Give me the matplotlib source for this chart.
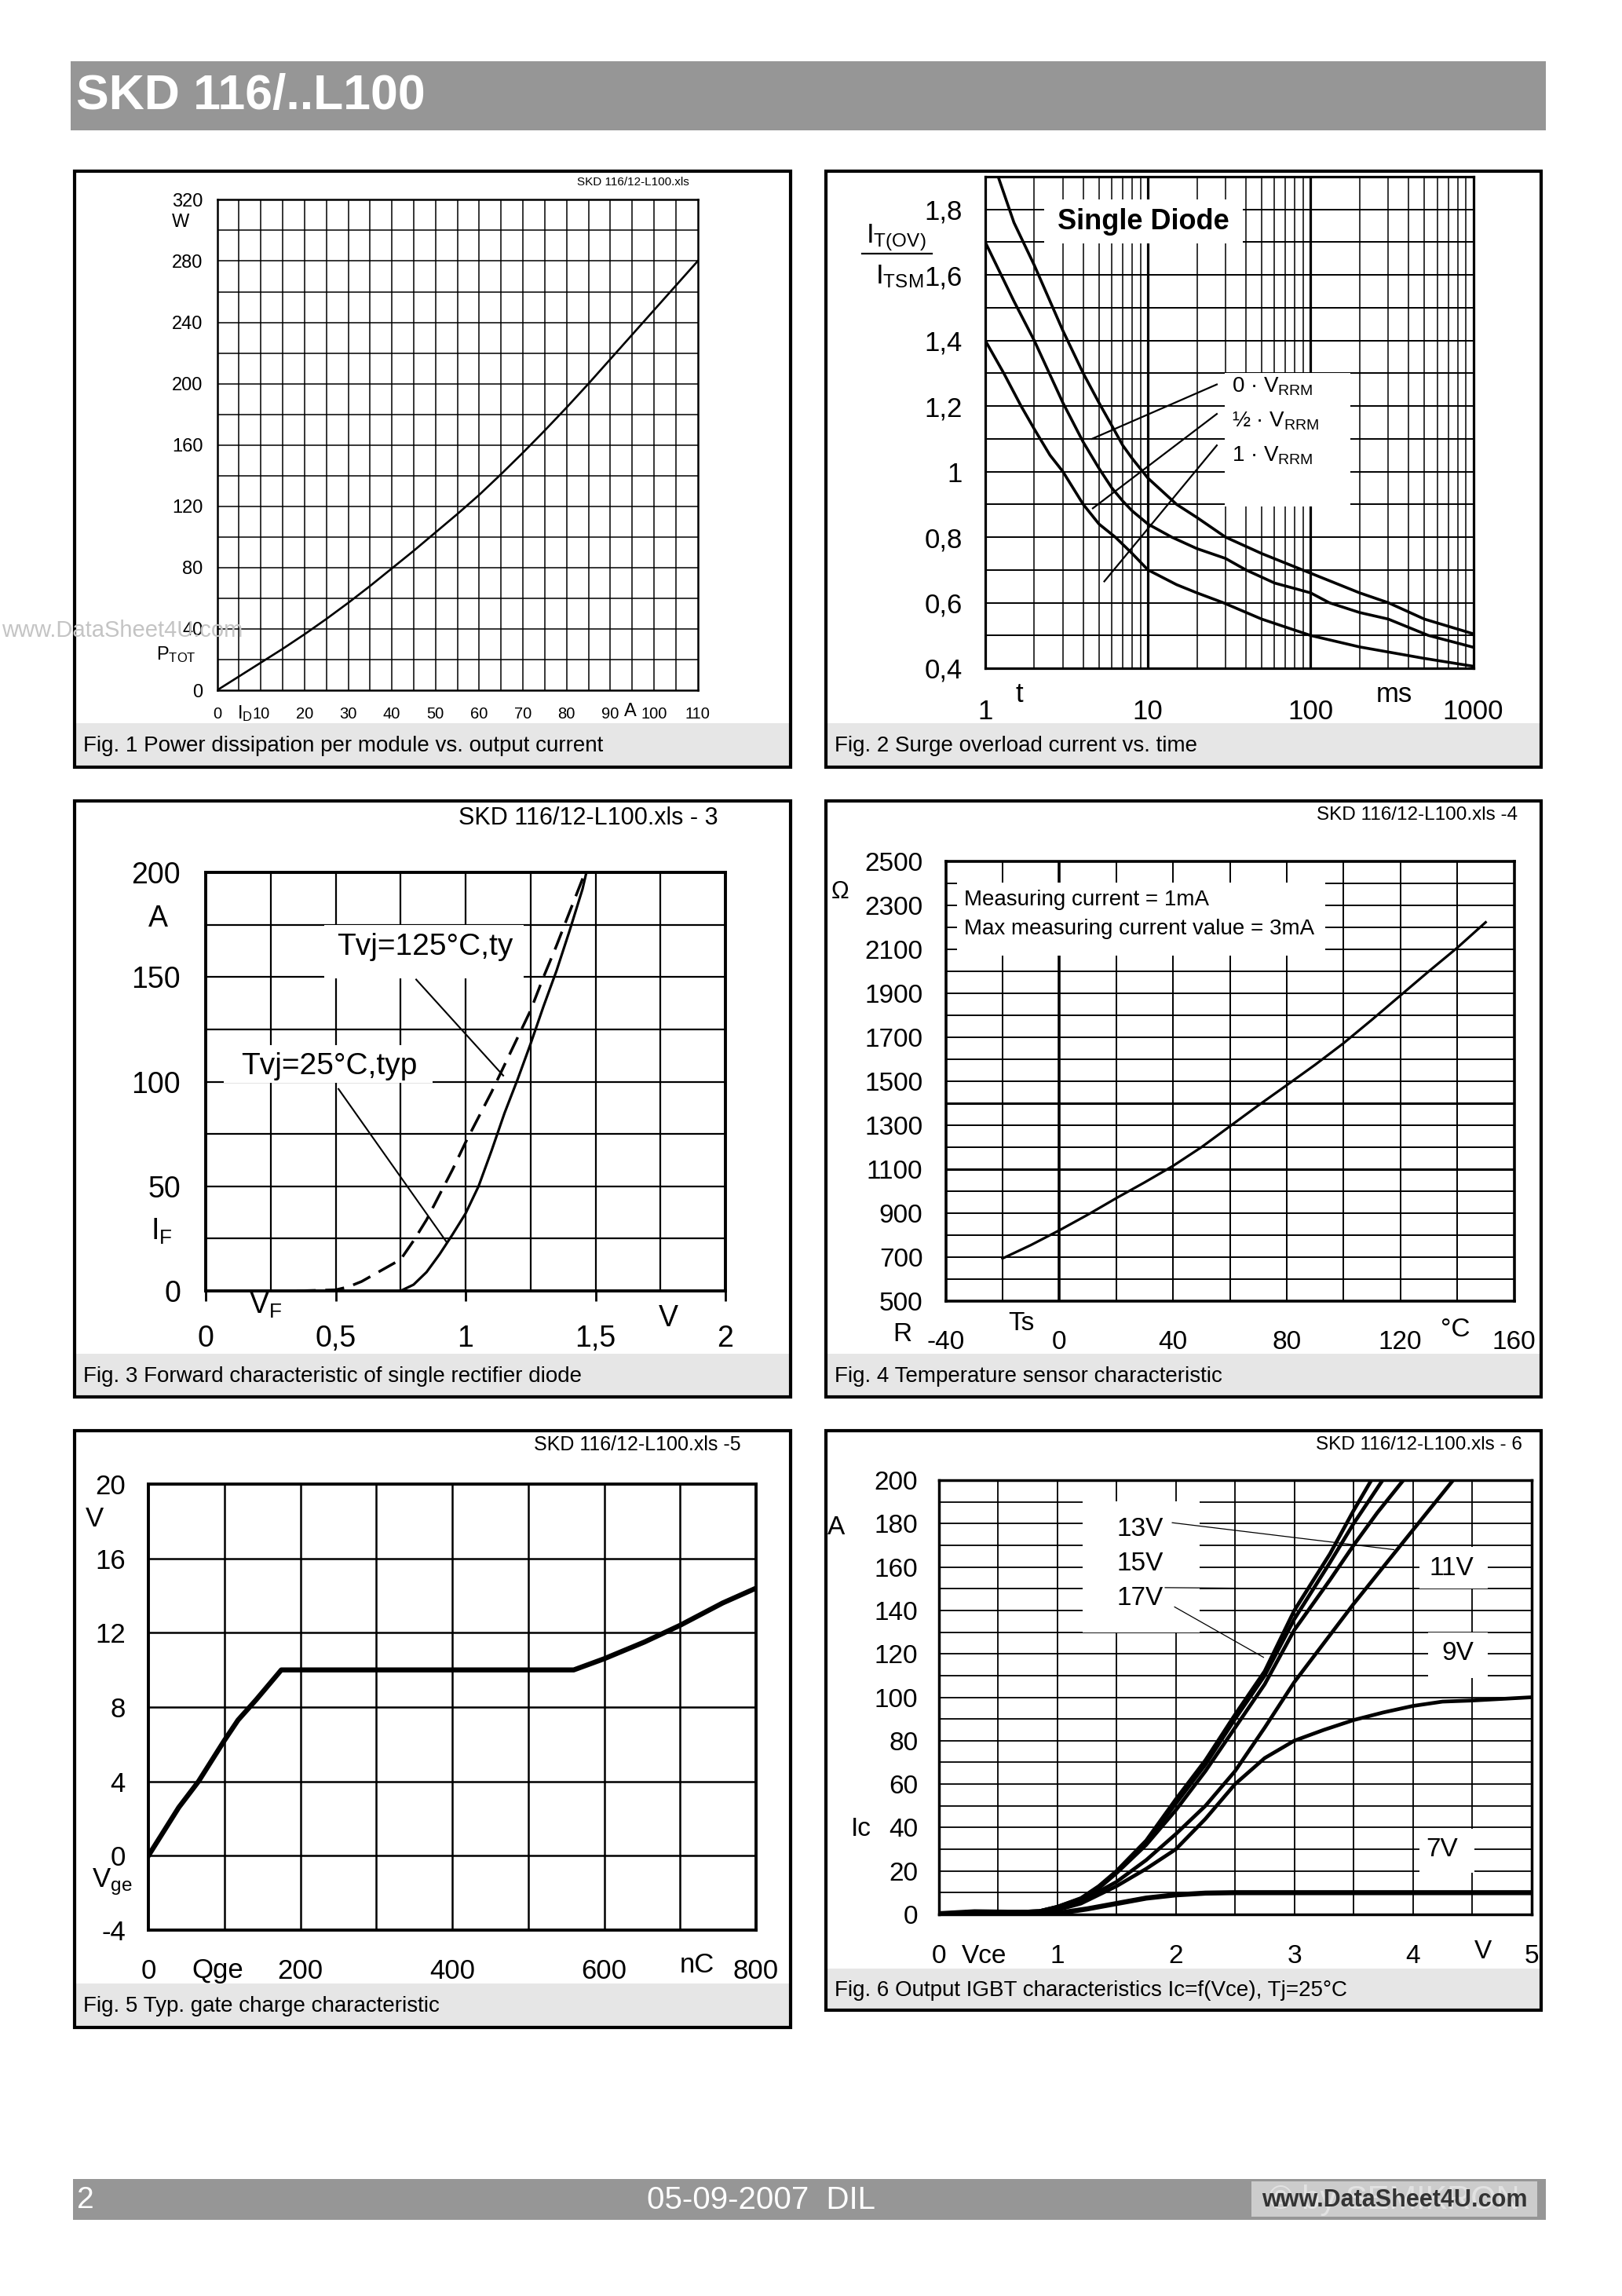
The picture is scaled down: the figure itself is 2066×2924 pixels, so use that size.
import numpy as np
import matplotlib
matplotlib.use('Agg')
import matplotlib.pyplot as plt
from matplotlib.patches import Rectangle
from matplotlib.lines import Line2D

plt.rcParams['font.family'] = ['Liberation Sans', 'DejaVu Sans']
plt.rcParams['mathtext.fontset'] = 'custom'
plt.rcParams['mathtext.rm'] = 'Liberation Sans'
plt.rcParams['mathtext.it'] = 'Liberation Sans:italic'
plt.rcParams['mathtext.bf'] = 'Liberation Sans:bold'

# ---------------- data ----------------
# Fig 1: power dissipation vs output current
f1_current = [0, 5, 10, 15, 20, 25, 30, 35, 40, 45, 50, 55, 60, 65, 70, 75, 80, 85, 90, 95, 100, 105, 110]
f1_power = [0, 9, 18, 27, 36.5, 46.5, 57, 68, 79.5, 91, 103, 115, 127.5, 141, 155, 169.5, 184.5, 200, 216, 232, 248, 264, 280]
f1_xticks = [0, 10, 20, 30, 40, 50, 60, 70, 80, 90, 100, 110]
f1_yticks = [0, 40, 80, 120, 160, 200, 240, 280, 320]

# Fig 2: surge overload current vs time
f2_t0 = [1.2, 1.5, 2, 2.5, 3, 4, 5, 6, 7, 8, 10, 15, 20, 30, 50, 100, 200, 300, 500, 1000]
f2_i0 = [1.9, 1.76, 1.63, 1.52, 1.43, 1.30, 1.21, 1.14, 1.08, 1.04, 0.98, 0.90, 0.86, 0.80, 0.75, 0.69, 0.63, 0.60, 0.55, 0.505]
f2_th = [1, 1.5, 2, 3, 4, 5, 6, 7, 8, 10, 14, 20, 30, 40, 60, 100, 130, 200, 300, 530, 1000]
f2_ih = [1.7, 1.52, 1.40, 1.21, 1.09, 1.01, 0.95, 0.91, 0.88, 0.84, 0.80, 0.765, 0.735, 0.70, 0.66, 0.63, 0.60, 0.57, 0.55, 0.50, 0.464]
f2_t1 = [1, 1.3, 1.66, 2, 2.5, 3, 4, 5, 6.3, 8, 10, 15, 20, 29, 50, 100, 200, 500, 1000]
f2_i1 = [1.4, 1.3, 1.2, 1.13, 1.05, 1.0, 0.9, 0.84, 0.8, 0.75, 0.70, 0.655, 0.63, 0.60, 0.55, 0.50, 0.465, 0.43, 0.406]
f2_labels = ['0 · V$_{\\mathrm{RRM}}$', '½ · V$_{\\mathrm{RRM}}$', '1 · V$_{\\mathrm{RRM}}$']
f2_leaders = [((4.53, 1.10), (26.5, 1.266)), ((4.58, 0.888), (26.5, 1.176)), ((5.39, 0.665), (26.5, 1.08))]
f2_xticks = [1, 10, 100, 1000]
f2_yticks = [0.4, 0.6, 0.8, 1.0, 1.2, 1.4, 1.6, 1.8]
f2_yticklabels = ['0,4', '0,6', '0,8', '1', '1,2', '1,4', '1,6', '1,8']

# Fig 3: forward characteristic
f3_v25 = [0.75, 0.80, 0.85, 0.90, 0.95, 1.0, 1.05, 1.10, 1.15, 1.20, 1.25, 1.30, 1.35, 1.40, 1.45, 1.465]
f3_i25 = [0, 3, 9, 17.5, 27, 37, 50, 67, 85, 101, 118, 136, 153, 172, 192, 200]
f3_v125 = [0.35, 0.5, 0.55, 0.6, 0.65, 0.7, 0.75, 0.8, 0.85, 0.9, 0.95, 1.0, 1.05, 1.10, 1.15, 1.2, 1.25, 1.3, 1.35, 1.4, 1.46]
f3_i125 = [0, 0.5, 2, 4.5, 8, 11.5, 15, 24, 34, 46, 58, 71, 83, 95, 108, 121, 134, 150, 165, 181, 200]
f3_leaders = [((0.81, 148.8), (1.145, 102.9)), ((0.511, 96.5), (0.925, 23.7))]
f3_xticks = [0, 0.5, 1, 1.5, 2]
f3_xticklabels = ['0', '0,5', '1', '1,5', '2']
f3_yticks = [0, 50, 100, 150, 200]

# Fig 4: temperature sensor
f4_temp = [-20, -10, 0, 10, 20, 30, 40, 50, 60, 70, 80, 90, 100, 110, 120, 130, 140, 150]
f4_res = [694, 755, 822, 893, 968, 1040, 1115, 1200, 1295, 1390, 1482, 1575, 1673, 1780, 1890, 2000, 2107, 2223]
f4_xticks = [-40, 0, 40, 80, 120, 160]
f4_yticks = [500, 700, 900, 1100, 1300, 1500, 1700, 1900, 2100, 2300, 2500]

# Fig 5: gate charge
f5_q = [0, 40, 66, 100, 118, 142, 175, 560, 600, 653, 700, 756, 800]
f5_v = [0, 2.6, 4.0, 6.2, 7.3, 8.4, 10.0, 10.0, 10.6, 11.5, 12.4, 13.6, 14.4]
f5_xticks = [0, 200, 400, 600, 800]
f5_yticks = [-4, 0, 4, 8, 12, 16, 20]

# Fig 6: output IGBT characteristics
f6_v17 = [0, 0.3, 0.6, 0.85, 1.0, 1.2, 1.35, 1.5, 1.75, 2.0, 2.25, 2.5, 2.75, 3.0, 3.3, 3.5, 3.65]
f6_i17 = [0.3, 1.2, 1.0, 1.5, 3.5, 7.5, 13, 20, 34, 53, 71, 92, 112, 140, 166, 186, 200]
f6_v15 = [0, 0.3, 0.6, 0.85, 1.0, 1.2, 1.35, 1.5, 1.75, 2.0, 2.25, 2.5, 2.75, 3.0, 3.3, 3.5, 3.745]
f6_i15 = [0.3, 1.2, 1.0, 1.5, 3.5, 7.2, 12.5, 19.5, 33, 51, 69, 90, 110, 136, 162, 180, 200]
f6_v13 = [0, 0.3, 0.6, 0.85, 1.0, 1.2, 1.35, 1.5, 1.75, 2.0, 2.25, 2.5, 2.75, 3.0, 3.3, 3.5, 3.7, 3.92]
f6_i13 = [0.3, 1.2, 1.0, 1.5, 3.3, 7.0, 12, 19, 32, 48, 66, 86, 106, 131, 154, 170, 185, 200]
f6_v11 = [0, 0.3, 0.6, 0.85, 1.0, 1.2, 1.5, 1.75, 2.0, 2.25, 2.5, 2.75, 3.0, 3.25, 3.5, 3.75, 4.0, 4.34]
f6_i11 = [0.3, 1.2, 1.0, 1.3, 2.5, 6, 15, 25, 37, 50, 66, 86, 107, 125, 143, 160, 177, 200]
f6_v9 = [0, 0.3, 0.6, 0.85, 1.0, 1.2, 1.5, 1.75, 2.0, 2.25, 2.5, 2.75, 3.0, 3.25, 3.5, 3.75, 4.0, 4.25, 4.5, 5.0]
f6_i9 = [0.3, 1.2, 1.0, 1.2, 2, 5, 13, 21, 30, 44, 60, 72, 80, 85, 89.5, 93, 96, 98, 98.5, 100]
f6_v7 = [0, 0.3, 0.6, 0.85, 1.0, 1.25, 1.5, 1.75, 2.0, 2.25, 2.5, 3.0, 4.0, 5.0]
f6_i7 = [0.3, 1.2, 1.0, 0.8, 0.5, 2.5, 5, 7.5, 9, 9.8, 10, 10, 10, 10]
f6_leaders = [((1.97, 180.4), (3.84, 168)), ((1.91, 150.5), (3.09, 150)), ((1.99, 141.6), (2.74, 118.4))]
f6_xticks = [0, 1, 2, 3, 4, 5]
f6_yticks = [0, 20, 40, 60, 80, 100, 120, 140, 160, 180, 200]

captions = ['Fig. 1 Power dissipation per module vs. output current',
            'Fig. 2 Surge overload current vs. time',
            'Fig. 3 Forward characteristic of single rectifier diode',
            'Fig. 4 Temperature sensor characteristic',
            'Fig. 5 Typ. gate charge characteristic',
            'Fig. 6 Output IGBT characteristics Ic=f(Vce), Tj=25°C']

# ---------------- layout helpers ----------------
W, H = 2066, 2924
fig = plt.figure(figsize=(W / 100, H / 100), dpi=100)
fig.patch.set_facecolor('white')


def ax_at(x0, y0, x1, y1):
    return fig.add_axes([x0 / W, 1 - y1 / H, (x1 - x0) / W, (y1 - y0) / H])


def ftext(x, y, s, **kw):
    kw.setdefault('ha', 'center')
    kw.setdefault('va', 'center')
    return fig.text(x / W, 1 - y / H, s, **kw)


def frect(x0, y0, x1, y1, ax=None, **kw):
    r = Rectangle((x0 / W, 1 - y1 / H), (x1 - x0) / W, (y1 - y0) / H,
                  transform=fig.transFigure, **kw)
    if ax is None:
        fig.add_artist(r)
    else:
        r.set_clip_on(False)
        ax.add_artist(r)
    return r


def fline(x0, y0, x1, y1, **kw):
    fig.add_artist(Line2D([x0 / W, x1 / W], [1 - y0 / H, 1 - y1 / H],
                          transform=fig.transFigure, **kw))


def style(ax, frame_lw):
    for s in ax.spines.values():
        s.set_linewidth(frame_lw)
        s.set_zorder(6)


def grid(ax, xs, ys, lw, xlw=None):
    for x in xs:
        ax.axvline(x, color='black', lw=xlw if xlw else lw, zorder=1)
    for y in ys:
        ax.axhline(y, color='black', lw=lw, zorder=1)


GRAY = '#969696'
STRIP = '#e6e6e6'

# header / footer
frect(90, 78, 1969, 166, fc=GRAY, ec='none', zorder=0)
ftext(97, 123, 'SKD 116/..L100', ha='left', color='white', fontsize=45, fontweight='bold')
frect(93, 2775, 1969, 2827, fc=GRAY, ec='none', zorder=0)
ftext(98, 2802, '2', ha='left', color='white', fontsize=28)
ftext(970, 2802, '05-09-2007  DIL', color='white', fontsize=29)
frect(1594, 2778, 1958, 2823, fc='#cccccc', ec='none', zorder=1)
ftext(1776, 2802, '© by SEMIKRON', color='#e2e2e2', fontsize=30, zorder=2)
ftext(1776, 2802, 'www.DataSheet4U.com', color='#333333', fontsize=22, fontweight='bold', zorder=3)

# panels: frame + caption strip
panels = [(95, 218, 1007, 977, 921), (1052, 218, 1963, 977, 921),
          (95, 1020, 1007, 1779, 1724), (1052, 1020, 1963, 1779, 1724),
          (95, 1822, 1007, 2582, 2526), (1052, 1822, 1963, 2560, 2507)]
for (x0, y0, x1, y1, sy), cap in zip(panels, captions):
    frect(x0, sy, x1, y1, fc=STRIP, ec='none', zorder=0.2)
    frect(x0, y0, x1, y1, fill=False, ec='black', lw=3, zorder=20)
    ftext(x0 + 11, (sy + y1) / 2 + 1, cap, ha='left', fontsize=20)

# ---------------- Fig 1 ----------------
ax1 = ax_at(276.6, 254.4, 888.7, 879)
grid(ax1, np.arange(5, 110, 5), np.arange(20, 320, 20), 1.1)
ax1.plot(f1_current, f1_power, color='black', lw=1.9, zorder=3)
ax1.set_xlim(0, 110)
ax1.set_ylim(0, 320)
style(ax1, 1.8)
ax1.set_xticks(f1_xticks)
ax1.set_xticklabels([str(v) for v in f1_xticks])
ax1.set_yticks(f1_yticks)
ax1.set_yticklabels([str(v) for v in f1_yticks])
ax1.tick_params(axis='x', length=0, labelsize=14.5, pad=15)
ax1.tick_params(axis='y', length=0, labelsize=17, pad=13)
ftext(230, 283, 'W', fontsize=17)
ftext(224, 834, 'P$_{\\mathrm{TOT}}$', fontsize=17)
ftext(322, 909, 'I$_{\\mathrm{D}}$', ha='right', fontsize=17)
ftext(803, 906, 'A', fontsize=17)
ftext(735, 232, 'SKD 116/12-L100.xls', ha='left', fontsize=11)
ftext(2, 803, 'www.DataSheet4U.com', ha='left', color='#c4c4c4', fontsize=21, zorder=30)

# ---------------- Fig 2 ----------------
ax2 = ax_at(1255, 225, 1876.6, 851)
ax2.set_xscale('log')
minor_x = [m * d for d in (1, 10, 100) for m in range(2, 10)]
grid(ax2, minor_x, np.arange(0.5, 1.85, 0.1), 1.4, xlw=1.1)
for v in (10, 100):
    ax2.axvline(v, color='black', lw=2.3, zorder=1)
for t, i in ((f2_t0, f2_i0), (f2_th, f2_ih), (f2_t1, f2_i1)):
    ax2.plot(t, i, color='black', lw=2.6, zorder=3)
frect(1330, 254, 1583, 310, ax=ax2, fc='white', ec='none', zorder=1.5)
frect(1560, 475, 1720, 645, ax=ax2, fc='white', ec='none', zorder=1.5)
for (p0, p1) in f2_leaders:
    ax2.plot([p0[0], p1[0]], [p0[1], p1[1]], color='black', lw=1.6, zorder=3)
ax2.set_xlim(1, 1000)
ax2.set_ylim(0.4, 1.9)
style(ax2, 2.3)
ax2.xaxis.set_minor_locator(matplotlib.ticker.NullLocator())
ax2.set_xticks(f2_xticks)
ax2.set_xticklabels([str(v) for v in f2_xticks])
ax2.set_yticks(f2_yticks)
ax2.set_yticklabels(f2_yticklabels)
ax2.tick_params(axis='x', length=0, labelsize=25, pad=28)
ax2.tick_params(axis='y', length=0, labelsize=25, pad=21)
ftext(1456, 282, 'Single Diode', fontsize=26, fontweight='bold')
for lab, yy in zip(f2_labels, (492, 536, 580)):
    ftext(1569, yy, lab, ha='left', fontsize=20)
ftext(1141, 303, 'I$_{\\mathrm{T(OV)}}$', fontsize=25)
fline(1098, 323, 1187, 323, color='black', lw=1.6)
ftext(1176, 352, 'I$_{\\mathrm{TSM}}$', ha='right', fontsize=25)
ftext(1298, 884, 't', fontsize=25)
ftext(1776, 884, 'ms', fontsize=25)

# ---------------- Fig 3 ----------------
ax3 = ax_at(262, 1111, 924, 1644)
grid(ax3, np.arange(0.25, 2, 0.25), np.arange(25, 200, 25), 1.6)
ax3.plot(f3_v25, f3_i25, color='black', lw=2.3, zorder=3)
ax3.plot(f3_v125, f3_i125, color='black', lw=2.5, zorder=3, dashes=(7, 3.5))
frect(413, 1178, 667, 1246, ax=ax3, fc='white', ec='none', zorder=1.5)
frect(285, 1331, 551, 1379, ax=ax3, fc='white', ec='none', zorder=1.5)
for (p0, p1) in f3_leaders:
    ax3.plot([p0[0], p1[0]], [p0[1], p1[1]], color='black', lw=1.5, zorder=3)
ax3.set_xlim(0, 2)
ax3.set_ylim(0, 200)
style(ax3, 2.8)
ax3.set_xticks(f3_xticks)
ax3.set_xticklabels(f3_xticklabels)
ax3.set_yticks(f3_yticks)
ax3.set_yticklabels([str(v) for v in f3_yticks])
ax3.tick_params(axis='x', direction='out', length=9, width=2, labelsize=27, pad=22)
ax3.tick_params(axis='y', length=0, labelsize=27, pad=23)
ftext(201, 1170, 'A', fontsize=27)
ftext(206, 1568, 'I$_{\\mathrm{F}}$', fontsize=27)
ftext(338, 1662, 'V$_{\\mathrm{F}}$', fontsize=27)
ftext(851, 1679, 'V', fontsize=27)
ftext(429, 1206, 'Tvj=125°C,ty', ha='left', fontsize=28)
ftext(307, 1358, 'Tvj=25°C,typ', ha='left', fontsize=28)
ftext(915, 1042, 'SKD 116/12-L100.xls - 3', ha='right', fontsize=22)

# ---------------- Fig 4 ----------------
ax4 = ax_at(1204.5, 1097, 1928.5, 1657)
grid(ax4, np.arange(-20, 160, 20), np.arange(600, 2500, 100), 1.4)
ax4.axvline(0, color='black', lw=2.6, zorder=1)
for yv in (1100, 1400):
    ax4.axhline(yv, color='black', lw=2.2, zorder=1)
ax4.plot(f4_temp, f4_res, color='black', lw=2.3, zorder=3)
frect(1219, 1124, 1688, 1217, ax=ax4, fc='white', ec='none', zorder=1.5)
ax4.set_xlim(-40, 160)
ax4.set_ylim(500, 2500)
style(ax4, 2.6)
ax4.set_xticks(f4_xticks)
ax4.set_xticklabels([str(v) for v in f4_xticks])
ax4.set_yticks(f4_yticks)
ax4.set_yticklabels([str(v) for v in f4_yticks])
ax4.tick_params(axis='x', length=0, labelsize=24, pad=27)
ax4.tick_params(axis='y', length=0, labelsize=24, pad=21)
ftext(1228, 1146, 'Measuring current = 1mA', ha='left', fontsize=20)
ftext(1228, 1183, 'Max measuring current value = 3mA', ha='left', fontsize=20)
ftext(1070, 1136, 'Ω', fontsize=22)
ftext(1149, 1699, 'R', fontsize=24)
ftext(1301, 1686, 'Ts', fontsize=24)
ftext(1854, 1694, '°C', fontsize=24)
ftext(1933, 1038, 'SKD 116/12-L100.xls -4', ha='right', fontsize=17.5)

# ---------------- Fig 5 ----------------
ax5 = ax_at(189, 1890, 963, 2458)
grid(ax5, np.arange(100, 800, 100), np.arange(0, 20, 4), 1.8)
ax5.plot(f5_q, f5_v, color='black', lw=4.6, zorder=3)
ax5.set_xlim(0, 800)
ax5.set_ylim(-4, 20)
style(ax5, 2.8)
ax5.set_xticks(f5_xticks)
ax5.set_xticklabels([str(v) for v in f5_xticks])
ax5.set_yticks(f5_yticks)
ax5.set_yticklabels([str(v) for v in f5_yticks])
ax5.tick_params(axis='x', length=0, labelsize=25, pad=26)
ax5.tick_params(axis='y', length=0, labelsize=25, pad=21)
ftext(120, 1934, 'V', fontsize=25)
ftext(143, 2397, 'V$_{\\mathrm{ge}}$', fontsize=25)
ftext(277, 2509, 'Qge', fontsize=25)
ftext(888, 2503, 'nC', fontsize=25)
ftext(944, 1840, 'SKD 116/12-L100.xls -5', ha='right', fontsize=18)

# ---------------- Fig 6 ----------------
ax6 = ax_at(1195.7, 1885, 1950.6, 2438)
grid(ax6, np.arange(0.5, 5, 0.5), np.arange(10, 200, 10), 1.3)
for v, i in ((f6_v17, f6_i17), (f6_v15, f6_i15), (f6_v13, f6_i13), (f6_v11, f6_i11), (f6_v9, f6_i9)):
    ax6.plot(v, i, color='black', lw=3.4, zorder=3)
ax6.plot(f6_v7, f6_i7, color='black', lw=4.6, zorder=3)
for (bx0, by0, bx1, by1) in ((1379, 1912, 1528, 2079), (1808, 1970, 1895, 2023),
                             (1819, 2079, 1895, 2137), (1808, 2329, 1878, 2385)):
    frect(bx0, by0, bx1, by1, ax=ax6, fc='white', ec='none', zorder=1.5)
for (p0, p1) in f6_leaders:
    ax6.plot([p0[0], p1[0]], [p0[1], p1[1]], color='black', lw=0.9, zorder=3)
ax6.set_xlim(0, 5)
ax6.set_ylim(0, 200)
style(ax6, 2.5)
ax6.set_xticks(f6_xticks)
ax6.set_xticklabels([str(v) for v in f6_xticks])
ax6.set_yticks(f6_yticks)
ax6.set_yticklabels([str(v) for v in f6_yticks])
ax6.tick_params(axis='x', length=0, labelsize=24, pad=27)
ax6.tick_params(axis='y', length=0, labelsize=24, pad=19)
for lab, (xx, yy) in zip(['13V', '15V', '17V', '11V', '9V', '7V'],
                         [(1452, 1947), (1452, 1991), (1452, 2036), (1849, 1997), (1857, 2106), (1837, 2356)]):
    ftext(xx, yy, lab, fontsize=24)
ftext(1065, 1946, 'A', fontsize=24)
ftext(1097, 2329, 'Ic', fontsize=24)
ftext(1254, 2491, 'Vce', fontsize=24)
ftext(1889, 2485, 'V', fontsize=24)
ftext(1939, 1840, 'SKD 116/12-L100.xls - 6', ha='right', fontsize=17.5)

fig.savefig('out.png', dpi=100, facecolor='white')
